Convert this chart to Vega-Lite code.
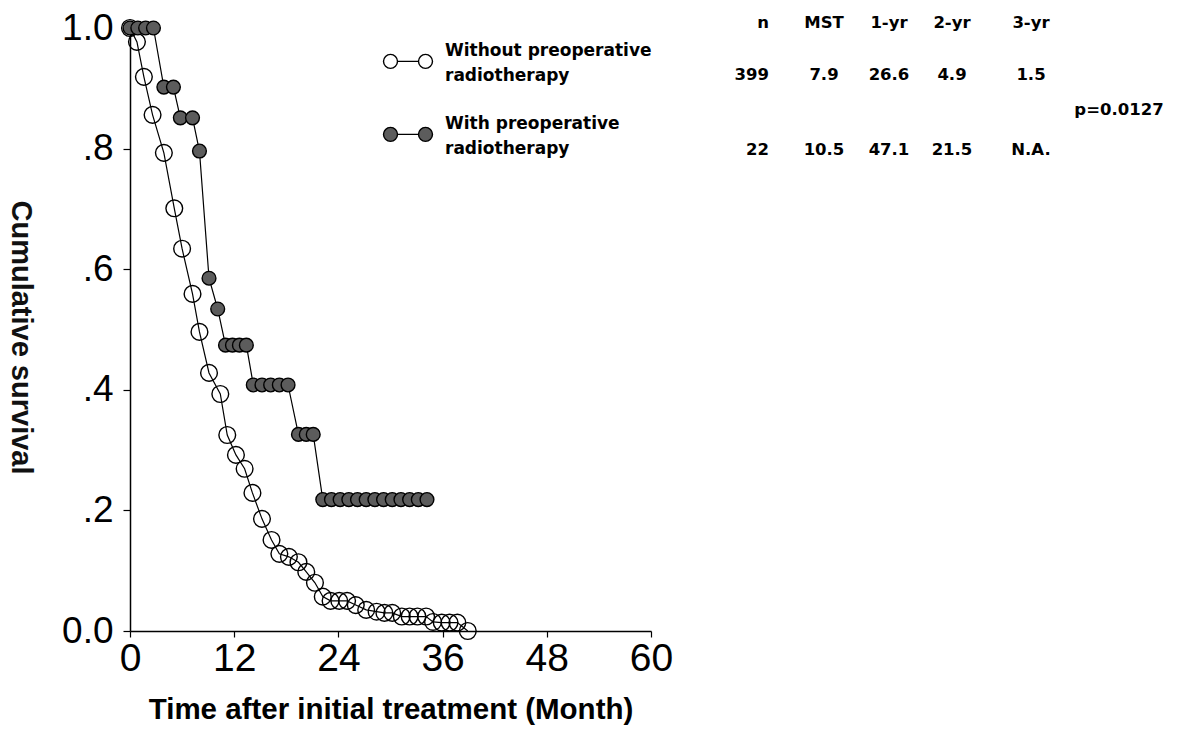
{
  "$schema": "https://vega.github.io/schema/vega-lite/v6.json",
  "width": 521,
  "height": 603,
  "autosize": {"type": "none"},
  "padding": {"left": 130, "top": 28, "right": 531, "bottom": 111},
  "background": "white",
  "config": {"view": {"stroke": null}, "axis": {"grid": false}},
  "layer": [
    {
      "data": {
        "values": [
          {"group": "Without preoperative radiotherapy", "month": 0, "surv": 1.0},
          {"group": "Without preoperative radiotherapy", "month": 0.8, "surv": 0.977},
          {"group": "Without preoperative radiotherapy", "month": 1.6, "surv": 0.919},
          {"group": "Without preoperative radiotherapy", "month": 2.6, "surv": 0.856},
          {"group": "Without preoperative radiotherapy", "month": 3.9, "surv": 0.793},
          {"group": "Without preoperative radiotherapy", "month": 5.1, "surv": 0.701},
          {"group": "Without preoperative radiotherapy", "month": 6.0, "surv": 0.634},
          {"group": "Without preoperative radiotherapy", "month": 7.2, "surv": 0.559},
          {"group": "Without preoperative radiotherapy", "month": 8.0, "surv": 0.496},
          {"group": "Without preoperative radiotherapy", "month": 9.1, "surv": 0.428},
          {"group": "Without preoperative radiotherapy", "month": 10.4, "surv": 0.393},
          {"group": "Without preoperative radiotherapy", "month": 11.2, "surv": 0.325},
          {"group": "Without preoperative radiotherapy", "month": 12.2, "surv": 0.292},
          {"group": "Without preoperative radiotherapy", "month": 13.2, "surv": 0.269},
          {"group": "Without preoperative radiotherapy", "month": 14.1, "surv": 0.229},
          {"group": "Without preoperative radiotherapy", "month": 15.2, "surv": 0.186},
          {"group": "Without preoperative radiotherapy", "month": 16.3, "surv": 0.151},
          {"group": "Without preoperative radiotherapy", "month": 17.2, "surv": 0.128},
          {"group": "Without preoperative radiotherapy", "month": 18.3, "surv": 0.123},
          {"group": "Without preoperative radiotherapy", "month": 19.4, "surv": 0.114},
          {"group": "Without preoperative radiotherapy", "month": 20.3, "surv": 0.098},
          {"group": "Without preoperative radiotherapy", "month": 21.3, "surv": 0.080},
          {"group": "Without preoperative radiotherapy", "month": 22.2, "surv": 0.057},
          {"group": "Without preoperative radiotherapy", "month": 23.1, "surv": 0.050},
          {"group": "Without preoperative radiotherapy", "month": 24.1, "surv": 0.050},
          {"group": "Without preoperative radiotherapy", "month": 25.0, "surv": 0.050},
          {"group": "Without preoperative radiotherapy", "month": 26.0, "surv": 0.043},
          {"group": "Without preoperative radiotherapy", "month": 27.2, "surv": 0.035},
          {"group": "Without preoperative radiotherapy", "month": 28.4, "surv": 0.032},
          {"group": "Without preoperative radiotherapy", "month": 29.3, "surv": 0.030},
          {"group": "Without preoperative radiotherapy", "month": 30.2, "surv": 0.030},
          {"group": "Without preoperative radiotherapy", "month": 31.3, "surv": 0.024},
          {"group": "Without preoperative radiotherapy", "month": 32.2, "surv": 0.024},
          {"group": "Without preoperative radiotherapy", "month": 33.1, "surv": 0.024},
          {"group": "Without preoperative radiotherapy", "month": 34.1, "surv": 0.024},
          {"group": "Without preoperative radiotherapy", "month": 34.9, "surv": 0.015},
          {"group": "Without preoperative radiotherapy", "month": 35.9, "surv": 0.014},
          {"group": "Without preoperative radiotherapy", "month": 36.8, "surv": 0.014},
          {"group": "Without preoperative radiotherapy", "month": 37.7, "surv": 0.014},
          {"group": "Without preoperative radiotherapy", "month": 38.9, "surv": 0.0},
          {"group": "With preoperative radiotherapy", "month": 0, "surv": 1.0},
          {"group": "With preoperative radiotherapy", "month": 0.9, "surv": 1.0},
          {"group": "With preoperative radiotherapy", "month": 1.8, "surv": 1.0},
          {"group": "With preoperative radiotherapy", "month": 2.7, "surv": 1.0},
          {"group": "With preoperative radiotherapy", "month": 3.9, "surv": 0.902},
          {"group": "With preoperative radiotherapy", "month": 5.0, "surv": 0.902},
          {"group": "With preoperative radiotherapy", "month": 5.8, "surv": 0.851},
          {"group": "With preoperative radiotherapy", "month": 7.2, "surv": 0.851},
          {"group": "With preoperative radiotherapy", "month": 8.0, "surv": 0.796},
          {"group": "With preoperative radiotherapy", "month": 9.1, "surv": 0.585},
          {"group": "With preoperative radiotherapy", "month": 10.1, "surv": 0.534},
          {"group": "With preoperative radiotherapy", "month": 11.0, "surv": 0.474},
          {"group": "With preoperative radiotherapy", "month": 11.8, "surv": 0.474},
          {"group": "With preoperative radiotherapy", "month": 12.6, "surv": 0.474},
          {"group": "With preoperative radiotherapy", "month": 13.4, "surv": 0.474},
          {"group": "With preoperative radiotherapy", "month": 14.2, "surv": 0.408},
          {"group": "With preoperative radiotherapy", "month": 15.2, "surv": 0.408},
          {"group": "With preoperative radiotherapy", "month": 16.2, "surv": 0.408},
          {"group": "With preoperative radiotherapy", "month": 17.2, "surv": 0.408},
          {"group": "With preoperative radiotherapy", "month": 18.2, "surv": 0.408},
          {"group": "With preoperative radiotherapy", "month": 19.4, "surv": 0.326},
          {"group": "With preoperative radiotherapy", "month": 20.3, "surv": 0.326},
          {"group": "With preoperative radiotherapy", "month": 21.1, "surv": 0.326},
          {"group": "With preoperative radiotherapy", "month": 22.2, "surv": 0.218},
          {"group": "With preoperative radiotherapy", "month": 23.2, "surv": 0.218},
          {"group": "With preoperative radiotherapy", "month": 24.2, "surv": 0.218},
          {"group": "With preoperative radiotherapy", "month": 25.2, "surv": 0.218},
          {"group": "With preoperative radiotherapy", "month": 26.2, "surv": 0.218},
          {"group": "With preoperative radiotherapy", "month": 27.2, "surv": 0.218},
          {"group": "With preoperative radiotherapy", "month": 28.2, "surv": 0.218},
          {"group": "With preoperative radiotherapy", "month": 29.2, "surv": 0.218},
          {"group": "With preoperative radiotherapy", "month": 30.2, "surv": 0.218},
          {"group": "With preoperative radiotherapy", "month": 31.2, "surv": 0.218},
          {"group": "With preoperative radiotherapy", "month": 32.2, "surv": 0.218},
          {"group": "With preoperative radiotherapy", "month": 33.2, "surv": 0.218},
          {"group": "With preoperative radiotherapy", "month": 34.2, "surv": 0.218}
        ]
      },
      "encoding": {
        "x": {
          "field": "month",
          "type": "quantitative",
          "scale": {"domain": [0, 60], "nice": false, "zero": false},
          "axis": {
            "values": [0, 12, 24, 36, 48, 60],
            "title": "Time after initial treatment (Month)",
            "labelFont": "Liberation Sans",
            "labelFontSize": 39,
            "labelColor": "black",
            "labelPadding": 2,
            "labelFlush": false,
            "tickSize": 6,
            "tickColor": "black",
            "tickWidth": 1.2,
            "domainColor": "black",
            "domainWidth": 1.5,
            "titleFont": "Liberation Sans",
            "titleFontSize": 29.5,
            "titleFontWeight": "bold",
            "titleColor": "black",
            "titlePadding": 17
          }
        },
        "y": {
          "field": "surv",
          "type": "quantitative",
          "scale": {"domain": [0, 1], "nice": false},
          "axis": {
            "values": [0, 0.2, 0.4, 0.6, 0.8, 1],
            "labelExpr": "datum.value == 0 ? '0.0' : datum.value == 1 ? '1.0' : replace(format(datum.value, '.1f'), '0.', '.')",
            "labelFont": "Liberation Sans",
            "labelFontSize": 37,
            "labelColor": "black",
            "labelPadding": 10,
            "tickSize": 7,
            "tickColor": "black",
            "tickWidth": 1.2,
            "domainColor": "black",
            "domainWidth": 1.5,
            "title": "Cumulative survival",
            "titleAngle": 90,
            "titleFont": "Liberation Sans",
            "titleFontWeight": "bold",
            "titleFontSize": 29,
            "titleColor": "#111111",
            "titleAlign": "center",
            "titleBaseline": "middle",
            "titleX": -110,
            "titleY": 309
          }
        },
        "fill": {
          "field": "group",
          "type": "nominal",
          "scale": {
            "domain": ["Without preoperative radiotherapy", "With preoperative radiotherapy"],
            "range": ["transparent", "#5c5c5c"]
          },
          "legend": {
            "orient": "none",
            "legendX": 269.5,
            "legendY": 14,
            "title": null,
            "padding": 0,
            "symbolType": "M -3.5 1.55 A 1 1 0 1 0 -1.5 1.55 A 1 1 0 1 0 -3.5 1.55 Z M -1.5 1.55 L 1.5 1.55 M 1.5 1.55 A 1 1 0 1 0 3.5 1.55 A 1 1 0 1 0 1.5 1.55 Z",
            "symbolSize": 196,
            "symbolStrokeColor": "black",
            "symbolStrokeWidth": 1.4,
            "symbolOpacity": 1,
            "labelFont": "DejaVu Sans",
            "labelFontWeight": "bold",
            "labelFontSize": 17,
            "labelColor": "black",
            "labelOffset": 28.5,
            "labelLimit": 0,
            "rowPadding": 30,
            "labelExpr": "datum.label == 'Without preoperative radiotherapy' ? ['Without preoperative', 'radiotherapy'] : ['With preoperative', 'radiotherapy']",
            "encode": {"labels": {"update": {"lineHeight": {"value": 25}}}}
          }
        }
      },
      "layer": [
        {
          "mark": {"type": "line", "color": "black", "strokeWidth": 1.2, "clip": false},
          "encoding": {"detail": {"field": "group"}, "order": {"field": "month"}, "fill": null}
        },
        {
          "transform": [{"filter": "datum.group == 'Without preoperative radiotherapy'"}],
          "mark": {"type": "point", "shape": "circle", "size": 280, "stroke": "black", "strokeWidth": 1.4, "opacity": 1, "clip": false}
        },
        {
          "transform": [{"filter": "datum.group == 'With preoperative radiotherapy'"}],
          "mark": {"type": "point", "shape": "circle", "size": 190, "stroke": "black", "strokeWidth": 1.4, "opacity": 1, "clip": false}
        }
      ]
    },
    {
      "data": {
        "values": [
          {"c": 1, "r": 1, "t": "n"},
          {"c": 2, "r": 1, "t": "MST"},
          {"c": 3, "r": 1, "t": "1-yr"},
          {"c": 4, "r": 1, "t": "2-yr"},
          {"c": 5, "r": 1, "t": "3-yr"},
          {"c": 1, "r": 2, "t": "399"},
          {"c": 2, "r": 2, "t": "7.9"},
          {"c": 3, "r": 2, "t": "26.6"},
          {"c": 4, "r": 2, "t": "4.9"},
          {"c": 5, "r": 2, "t": "1.5"},
          {"c": 6, "r": 3, "t": "p=0.0127"},
          {"c": 1, "r": 4, "t": "22"},
          {"c": 2, "r": 4, "t": "10.5"},
          {"c": 3, "r": 4, "t": "47.1"},
          {"c": 4, "r": 4, "t": "21.5"},
          {"c": 5, "r": 4, "t": "N.A."}
        ]
      },
      "encoding": {
        "x": {
          "field": "c",
          "type": "quantitative",
          "scale": {"domain": [1, 2, 3, 4, 5, 6], "range": [639, 694, 759, 822, 901, 989]},
          "axis": null
        },
        "y": {
          "field": "r",
          "type": "quantitative",
          "scale": {"domain": [1, 2, 3, 4], "range": [-5, 47, 82, 122]},
          "axis": null
        },
        "text": {"field": "t"}
      },
      "layer": [
        {
          "transform": [{"filter": "datum.c == 1"}],
          "mark": {"type": "text", "align": "right", "baseline": "middle", "font": "DejaVu Sans", "fontWeight": "bold", "fontSize": 16.5, "color": "black", "clip": false}
        },
        {
          "transform": [{"filter": "datum.c > 1"}],
          "mark": {"type": "text", "align": "center", "baseline": "middle", "font": "DejaVu Sans", "fontWeight": "bold", "fontSize": 16.5, "color": "black", "clip": false}
        }
      ]
    }
  ],
  "resolve": {"scale": {"x": "independent", "y": "independent"}}
}
